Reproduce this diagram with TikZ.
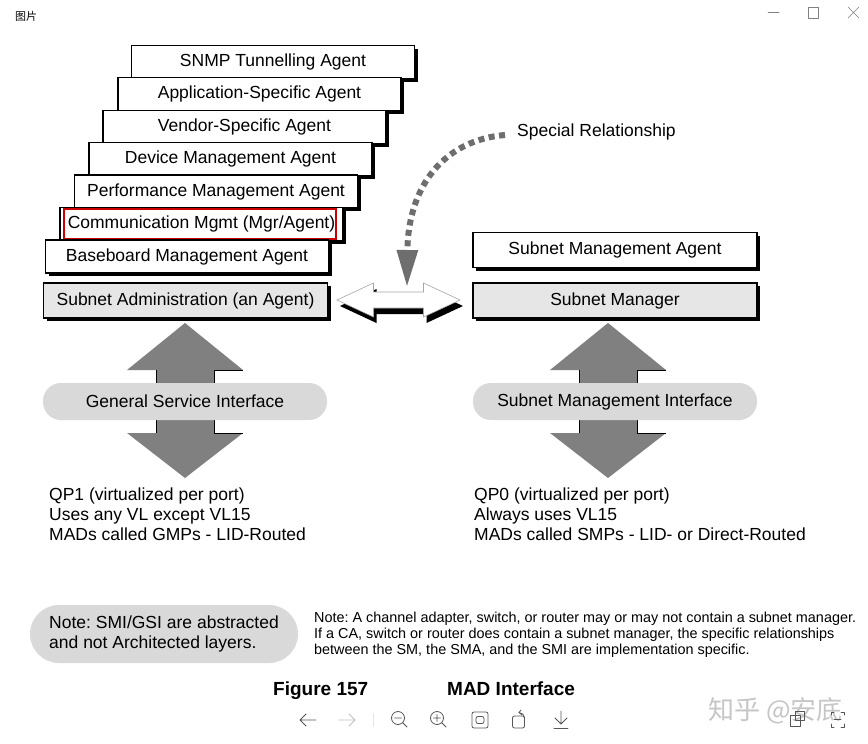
\documentclass[tikz,border=0pt]{standalone}
\usepackage{fontspec}
\setmainfont{Liberation Sans}
\newfontfamily\cjkfont{Noto Sans CJK SC}
\usetikzlibrary{arrows.meta,positioning,shadows,calc}
\definecolor{boxgray}{HTML}{E6E6E6}
\definecolor{pillgray}{HTML}{D9D9D9}
\definecolor{arrowgray}{HTML}{808080}
\definecolor{dotgray}{HTML}{6E6E6E}
\definecolor{chrome}{HTML}{555555}
\frenchspacing

\begin{document}
\begin{tikzpicture}[x=1pt, y=-1pt,
      agent/.style={draw, line width=1.2pt, fill=white, inner sep=0pt,
                    minimum width=283pt, minimum height=33pt,
                    font=\fontsize{17.5}{20}\selectfont,
                    drop shadow={shadow xshift=3pt, shadow yshift=-3pt,
                                 fill=black, opacity=1}},
      mgr/.style={agent, fill=boxgray, minimum height=35pt, minimum width=284pt},
      pill/.style={fill=pillgray, rounded corners=18pt, inner sep=0pt,
                   minimum width=284pt, minimum height=37pt,
                   font=\fontsize{17.5}{20}\selectfont},
      txt/.style={font=\fontsize{17.5}{20}\selectfont, align=left,
                  inner sep=0pt, anchor=north west},
      small/.style={font=\fontsize{14.4}{16}\selectfont, align=left,
                    inner sep=0pt, anchor=north west},
      caption/.style={font=\bfseries\fontsize{19}{22}\selectfont,
                      inner sep=0pt, anchor=base west},
      reldots/.style={dotgray, line width=6pt, dash pattern=on 6pt off 4.5pt,
                      -{Triangle[length=37pt, width=20pt]}},
      icon/.style={chrome, line width=0.8pt, line cap=round, line join=round}]
    \useasboundingbox (0,0) rectangle (868,744);
    \fill[white] (0,0) rectangle (868,744);

    % window chrome
    \node[font=\cjkfont\fontsize{11}{13}\selectfont, anchor=west, inner sep=0pt] (title) at (15,16) {图片};
    \draw[icon, line width=0.5pt, gray] (768,12.5) -- (779,12.5);
    \draw[icon, line width=0.5pt, gray] (808.5,7) rectangle (818,18);
    \draw[icon, line width=0.5pt, gray] (848,7) -- (859,18) (859,7) -- (848,18);

    % agent stack (left side)
    \node[agent] (snmp)   at (273,62)  {SNMP Tunnelling Agent};
    \node[agent] (app)    at (259.5,94) {Application-Specific Agent};
    \node[agent] (vendor) at (244.5,127) {Vendor-Specific Agent};
    \node[agent] (device) at (230.5,159) {Device Management Agent};
    \node[agent] (perf)   at (216,191.5)   {Performance Management Agent};
    \node[agent] (comm)   at (201.5,224) {Communication Mgmt (Mgr/Agent)};
    \draw[red!80!black, line width=2pt] (63.5,208.5) rectangle (336,238.5);
    \node[agent] (base)   at (187,256.5)   {Baseboard Management Agent};
    \node[mgr]   (sa)     at (185.5,300.5) {Subnet Administration (an Agent)};

    % right side
    \node[agent, minimum height=35pt, minimum width=284pt] (sma) at (615,250) {Subnet Management Agent};
    \node[mgr] (sm) at (615,300.5) {Subnet Manager};

    % special relationship
    \coordinate (link) at (398.5,300);
    \fill[black] ($(link)+(3,6)$) +(-61.5,0) -- +(-25,-17) -- +(-25,-8) -- +(25,-8) -- +(25,-17)
      -- +(61.5,0) -- +(25,17) -- +(25,8) -- +(-25,8) -- +(-25,17) -- cycle;
    \filldraw[fill=white, draw=gray!70, line width=0.6pt] (link) +(-61.5,0) -- +(-25,-17) -- +(-25,-8)
      -- +(25,-8) -- +(25,-17) -- +(61.5,0) -- +(25,17) -- +(25,8) -- +(-25,8) -- +(-25,17) -- cycle;
    \node[font=\fontsize{17.5}{20}\selectfont, anchor=west, inner sep=0pt] (rel) at (517,131.5) {Special Relationship};
    \draw[reldots] ($(rel.west)+(-12,3.5)$) .. controls (445,140) and (408,185) .. ($(link)+(8.5,-13)$);

    % service interfaces
    \foreach \px in {185,608} {
      \begin{scope}[shift={(\px,401.5)}]
        \fill[arrowgray] (0,-78.5) -- (58,-31.5) -- (29,-31.5) -- (29,31.5) -- (58,31.5)
          -- (0,76.5) -- (-58,31.5) -- (-29,31.5) -- (-29,-31.5) -- (-58,-31.5) -- cycle;
        \draw[line width=0.8pt] (-29,-31.5) -- (-29,-18) (29,-18) -- (29,-31.5) -- (58,-31.5);
        \draw[line width=0.8pt] (-29,18) -- (-29,31.5) (29,18) -- (29,31.5) -- (58,31.5);
      \end{scope}
    }
    \node[pill] (gsi) at (185,401.5) {General Service Interface};
    \node[pill] (smi) at (615,401.5) {Subnet Management Interface};

    \node[txt] (gmp) at (49,488) {QP1 (virtualized per port)\\Uses any VL except VL15\\MADs called GMPs - LID-Routed};
    \node[txt] (smp) at (474,488) {QP0 (virtualized per port)\\Always uses VL15\\MADs called SMPs - LID- or Direct-Routed};

    % notes
    \node[pill, rounded corners=29pt, minimum width=268pt, minimum height=58pt, align=left] (abs) at (164,634)
      {Note: SMI/GSI are abstracted\\and not Architected layers.};
    \node[small] (cnote) at (314,611.5) {Note: A channel adapter, switch, or router may or may not contain a subnet manager.\\
      If a CA, switch or router does contain a subnet manager, the specific relationships\\
      between the SM, the SMA, and the SMI are implementation specific.};

    \node[caption] (fig) at (273,695) {Figure 157};
    \node[caption] (mad) at (447,695) {MAD Interface};

    % viewer toolbar
    \draw[icon] (316,720) -- (300,720) (306,714) -- (300,720) -- (306,726);
    \draw[icon, gray!50] (339,720) -- (355,720) (349,714) -- (355,720) -- (349,726);
    \draw[gray!20, line width=0.6pt] (373,713) -- (373,727);
    \draw[icon] (398,718) circle (6.5) (394.5,718) -- (401.5,718) (402.8,722.8) -- (407,727);
    \draw[icon] (437,718) circle (6.5) (433.5,718) -- (440.5,718) (437,714.5) -- (437,721.5) (441.8,722.8) -- (446,727);
    \draw[icon, rounded corners=2pt] (472,712) rectangle (488,728) (476,716.5) rectangle (484,723.5);
    \draw[icon, rounded corners=2pt] (512.5,716) rectangle (524.5,728);
    \draw[icon] (519,712.5) arc (-90:0:5.5);
    \draw[icon] (521,710) -- (519,712.5) -- (521.5,714.5);
    \draw[icon] (561,711) -- (561,724) (555,718) -- (561,724) -- (567,718) (554,728.5) -- (568,728.5);
    \node[font=\cjkfont\fontsize{26}{28}\selectfont, text=gray!45, anchor=west, inner sep=0pt] (mark) at (708,711) {知乎 @安底};
    \draw[icon, line width=0.6pt] (790,715) rectangle (800,726) (795,711) rectangle (804,720);
    \draw[icon, line width=0.6pt] (831,715) -- (831,712) -- (834,712) (841,712) -- (844,712) -- (844,715)
      (844,724) -- (844,727) -- (841,727) (834,727) -- (831,727) -- (831,724) (834,719.5) -- (841,719.5);
  \end{tikzpicture}
\end{document}
